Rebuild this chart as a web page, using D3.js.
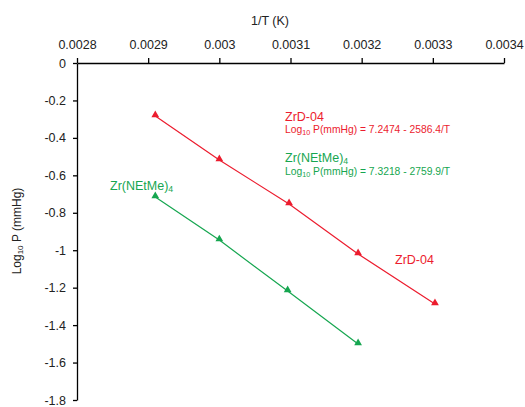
<!DOCTYPE html>
<html>
<head>
<meta charset="utf-8">
<script src="https://cdnjs.cloudflare.com/ajax/libs/d3/7.8.5/d3.min.js"></script>
<style>
  body { margin: 0; font-family: Arial, 'Liberation Sans', sans-serif; background: #fff; }
  .axis text { font-size: 12.5px; fill: #222; }
  .axis path, .axis line { stroke: #000; stroke-width: 1.3; }
</style>
</head>
<body>
<svg id="chart" width="525" height="407"></svg>
<script>
// values
var xTicks = [0.0028, 0.0029, 0.003, 0.0031, 0.0032, 0.0033, 0.0034];
var yTicks = [0, -0.2, -0.4, -0.6, -0.8, -1, -1.2, -1.4, -1.6, -1.8];

var zrdX = [0.00291, 0.0030, 0.003098, 0.003195, 0.003303];
var zrdY = [-0.283, -0.518, -0.753, -1.02, -1.287];

var zrnX = [0.00291, 0.0030, 0.003096, 0.003195];
var zrnY = [-0.716, -0.946, -1.218, -1.501];

var red = "#ec1c2e", green = "#16a650";

var svg = d3.select("#chart");
var margin = {top: 63, left: 77},
    width = 504 - 77,
    height = 400 - 63;

var g = svg.append("g").attr("transform", "translate(" + margin.left + "," + margin.top + ")");

var x = d3.scaleLinear().domain([0.0028, 0.0034]).range([0, width]);
var y = d3.scaleLinear().domain([0, -1.8]).range([0, height]);

g.append("g").attr("class", "axis")
  .call(d3.axisTop(x).tickValues(xTicks).tickFormat(function (d) { return +d.toFixed(4); }).tickSizeInner(5).tickSizeOuter(0).tickPadding(9));

g.append("g").attr("class", "axis")
  .call(d3.axisLeft(y).tickValues(yTicks).tickFormat(function (d) { return +d.toFixed(1); }).tickSizeInner(4).tickSizeOuter(0).tickPadding(7));

g.selectAll(".axis .domain").attr("stroke-width", 1.5);

// axis titles
svg.append("text").attr("x", 270).attr("y", 25).attr("text-anchor", "middle")
  .style("font-size", "12.5px").attr("fill", "#222").text("1/T (K)");

var yt = svg.append("text").attr("transform", "translate(21,231) rotate(-90)")
  .attr("text-anchor", "middle").style("font-size", "12px").attr("fill", "#222");
yt.append("tspan").text("Log");
yt.append("tspan").attr("dy", 2).style("font-size", "8px").text("10");
yt.append("tspan").attr("dy", -2).text(" P (mmHg)");

function series(xs, ys, color) {
  var pts = xs.map(function (d, i) { return [d, ys[i]]; });
  g.append("path").datum(pts)
    .attr("fill", "none").attr("stroke", color).attr("stroke-width", 1.2)
    .attr("d", d3.line().x(function (d) { return x(d[0]); }).y(function (d) { return y(d[1]); }));
  g.selectAll(null).data(pts).enter().append("path")
    .attr("d", d3.symbol().type(d3.symbolTriangle).size(26))
    .attr("transform", function (d) { return "translate(" + x(d[0]) + "," + (y(d[1]) - 1) + ")"; })
    .attr("fill", color);
}
series(zrdX, zrdY, red);
series(zrnX, zrnY, green);

// annotations
function sub(t, parts, size) {
  parts.forEach(function (p) {
    if (p.s) t.append("tspan").attr("dy", 1.5).style("font-size", (size * 0.7) + "px").text(p.s);
    else t.append("tspan").attr("dy", p.after ? -1.5 : 0).text(p.t);
  });
}
var a1 = svg.append("text").attr("x", 285).attr("y", 121).attr("fill", red).style("font-size", "12.5px");
a1.text("ZrD-04");
var e1 = svg.append("text").attr("x", 285).attr("y", 133).attr("fill", red).style("font-size", "10.3px");
sub(e1, [{t: "Log"}, {s: "10"}, {t: " P(mmHg) = 7.2474 - 2586.4/T", after: true}], 10.3);

var a2 = svg.append("text").attr("x", 285).attr("y", 162).attr("fill", green).style("font-size", "12.5px");
sub(a2, [{t: "Zr(NEtMe)"}, {s: "4"}], 12.5);
var e2 = svg.append("text").attr("x", 285).attr("y", 175).attr("fill", green).style("font-size", "10.3px");
sub(e2, [{t: "Log"}, {s: "10"}, {t: " P(mmHg) = 7.3218 - 2759.9/T", after: true}], 10.3);

var a3 = svg.append("text").attr("x", 110).attr("y", 190).attr("fill", green).style("font-size", "12.5px");
sub(a3, [{t: "Zr(NEtMe)"}, {s: "4"}], 12.5);

svg.append("text").attr("x", 395).attr("y", 264).attr("fill", red).style("font-size", "12.5px").text("ZrD-04");
</script>
</body>
</html>
